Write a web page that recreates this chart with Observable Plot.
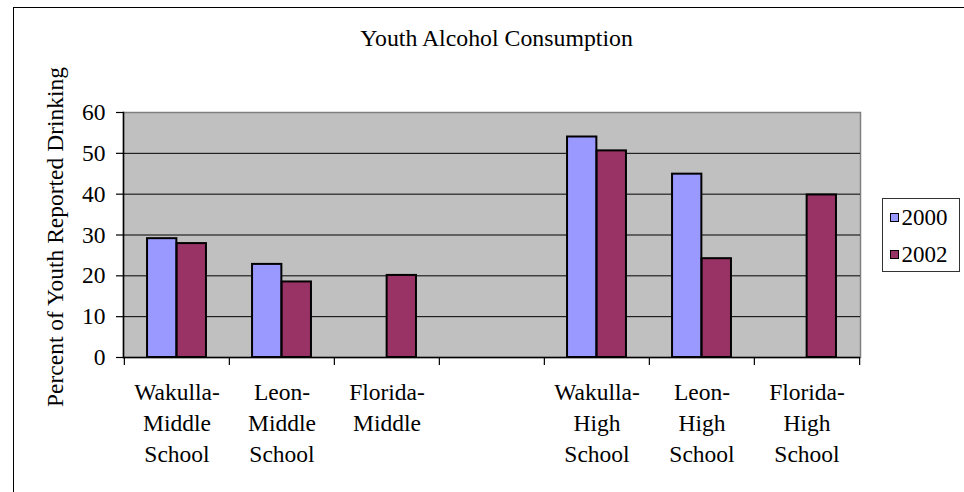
<!DOCTYPE html>
<html>
<head>
<meta charset="utf-8">
<script src="https://cdn.jsdelivr.net/npm/d3@7"></script>
<script src="https://cdn.jsdelivr.net/npm/@observablehq/plot@0.6"></script>
<style>
  html, body { margin: 0; padding: 0; background: #fff; overflow: hidden; }
  #wrap { position: relative; width: 964px; height: 492px; overflow: hidden; font-family: "Liberation Serif", "Times New Roman", serif; }
  #border { position: absolute; left: 13px; top: 7px; width: 960px; height: 500px; border: 1.5px solid #000; box-sizing: border-box; }
  #chart { position: absolute; left: 0; top: 0; }
  #chart svg, #chart svg text { font-family: "Liberation Serif", "Times New Roman", serif !important; }
  #legend { position: absolute; left: 881.5px; top: 197.5px; width: 78px; height: 74px; border: 1px solid #333; box-sizing: border-box; background: #fff; }
  .item { position: absolute; left: 7px; height: 26px; font-size: 23px; line-height: 26px; color: #000; white-space: nowrap; }
  .sw { display: inline-block; width: 9px; height: 9px; border: 1.5px solid #000; box-sizing: border-box; margin-right: 3px; vertical-align: 3px; }
</style>
</head>
<body>
<div id="wrap">
  <div id="border"></div>
  <div id="chart"></div>
  <div id="legend"></div>
</div>
<script>
// ---- data ----
const title = "Youth Alcohol Consumption";
const yLabel = "Percent of Youth Reported Drinking";
const categories = [
  "Wakulla-\nMiddle\nSchool",
  "Leon-\nMiddle\nSchool",
  "Florida-\nMiddle",
  "",
  "Wakulla-\nHigh\nSchool",
  "Leon-\nHigh\nSchool",
  "Florida-\nHigh\nSchool"
];
const seriesNames = ["2000", "2002"];
const values2000 = [29.1, 22.8, null, null, 54.0, 44.9, null];
const values2002 = [27.9, 18.5, 20.1, null, 50.6, 24.2, 39.8];
const yTicks = [0, 10, 20, 30, 40, 50, 60];
const colors = ["#9999ff", "#993366"];

// ---- layout ----
const W = 964, H = 492;
const mL = 123, mR = 104, mT = 112, mB = 135;
const step = (W - mL - mR) / categories.length;
const barW = 29.6;

const rows2000 = categories.map((c, i) => ({category: c, value: values2000[i]})).filter(d => d.value != null);
const rows2002 = categories.map((c, i) => ({category: c, value: values2002[i]})).filter(d => d.value != null);

const font = "Liberation Serif, Times New Roman, serif";

const chart = Plot.plot({
  width: W, height: H,
  marginLeft: mL, marginRight: mR, marginTop: mT, marginBottom: mB,
  style: {fontFamily: font, fontSize: "23.5px", color: "#000", background: "transparent", overflow: "visible"},
  x: {domain: categories, padding: 0, axis: null},
  y: {domain: [0, 60], axis: null},
  marks: [
    Plot.frame({fill: "#c0c0c0", stroke: "#808080", strokeWidth: 1.5}),
    Plot.gridY(yTicks.filter(t => t > 0 && t < 60), {stroke: "#000", strokeOpacity: 1, strokeWidth: 1}),
    Plot.barY(rows2000, {x: "category", y: "value", fill: colors[0], stroke: "#000", strokeWidth: 2,
      insetLeft: step / 2 - barW, insetRight: step / 2}),
    Plot.barY(rows2002, {x: "category", y: "value", fill: colors[1], stroke: "#000", strokeWidth: 2,
      insetLeft: step / 2, insetRight: step / 2 - barW}),
    Plot.ruleY([0], {stroke: "#000", strokeWidth: 1.5}),
    Plot.frame({anchor: "left", stroke: "#000", strokeWidth: 1.5}),
    Plot.axisY({ticks: yTicks, tickSize: 7, tickPadding: 11, anchor: "left", label: null, stroke: "#000", strokeWidth: 1.2, fill: "#000", fontFamily: font, fontSize: 23.5}),
    Plot.axisX({tickSize: 8, tickFormat: () => "", dx: -step / 2, anchor: "bottom", label: null, stroke: "#000", strokeWidth: 1.2}),
    Plot.axisX({ticks: [categories[categories.length - 1]], tickSize: 8, tickFormat: () => "", dx: step / 2, anchor: "bottom", label: null, stroke: "#000", strokeWidth: 1.2}),
    Plot.text(categories, {x: d => d, text: d => d, frameAnchor: "bottom", lineAnchor: "top", dy: 20.5, lineHeight: 1.32, fill: "#000", fontFamily: font, fontSize: 23.5}),
    Plot.text([title], {frameAnchor: "top", text: d => d, textAnchor: "middle", dx: 4.5, dy: -74.5, lineAnchor: "middle", fill: "#000", fontFamily: font, fontSize: 23.8}),
    Plot.text([yLabel], {frameAnchor: "left", text: d => d, textAnchor: "middle", rotate: -90, dx: -68, dy: 2, lineAnchor: "middle", fill: "#000", fontFamily: font, fontSize: 23.5})
  ]
});
document.getElementById("chart").appendChild(chart);

// ---- legend ----
const legend = document.getElementById("legend");
seriesNames.forEach((name, i) => {
  const item = document.createElement("div");
  item.className = "item";
  item.style.top = (6 + i * 37) + "px";
  const sw = document.createElement("span");
  sw.className = "sw";
  sw.style.background = colors[i];
  item.appendChild(sw);
  item.appendChild(document.createTextNode(name));
  legend.appendChild(item);
});
</script>
</body>
</html>
